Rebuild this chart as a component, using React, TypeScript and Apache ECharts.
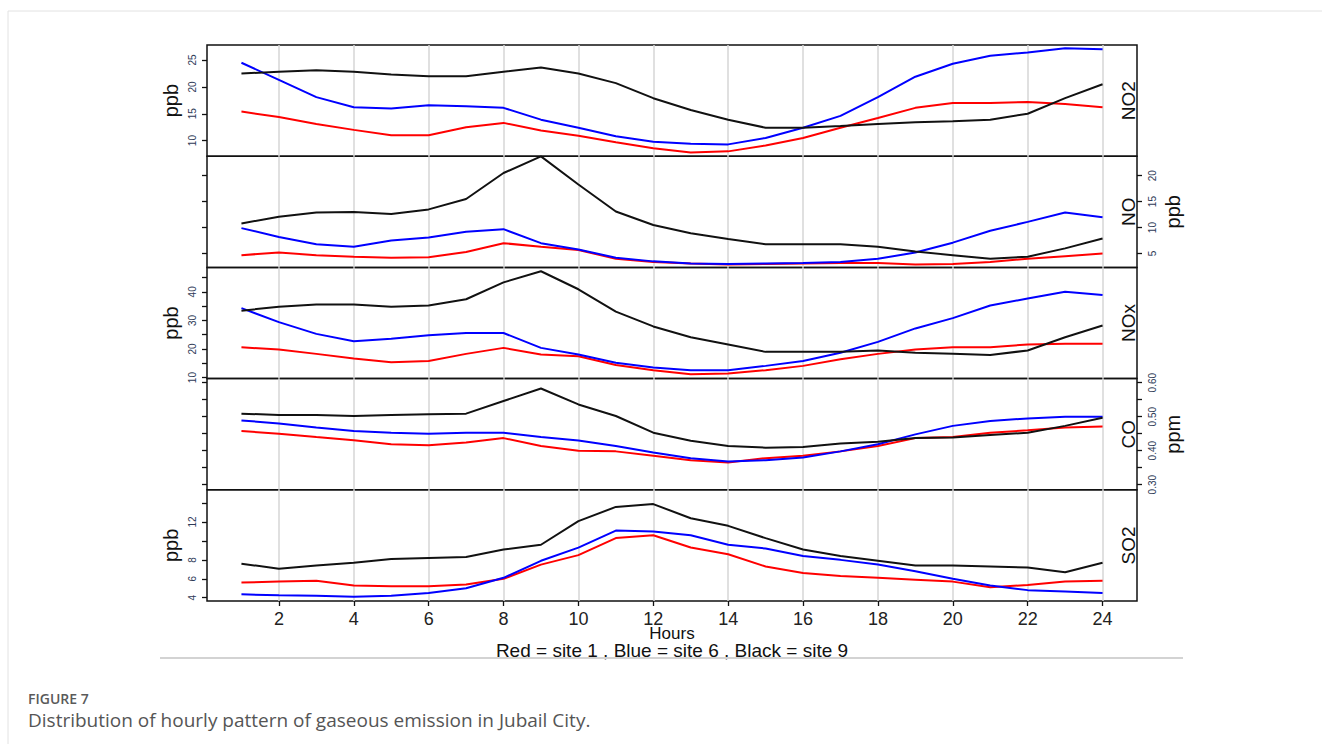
import React, { useEffect, useRef } from "react";
import * as echarts from "echarts";

const HOURS = [1, 2, 3, 4, 5, 6, 7, 8, 9, 10, 11, 12, 13, 14, 15, 16, 17, 18, 19, 20, 21, 22, 23, 24];
const TICK_HOURS = [2, 4, 6, 8, 10, 12, 14, 16, 18, 20, 22, 24];

const PANEL_NAMES = ["NO2", "NO", "NOx", "CO", "SO2"];
const PANEL_UNITS = ["ppb", "ppb", "ppb", "ppm", "ppb"];
const LABEL_SIDE = ["left", "right", "left", "right", "left"];
const Y_MIN = [7.1, 2.34, 9.65, 0.285, 3.65];
const Y_MAX = [27.8, 23.74, 48.55, 0.612, 15.41];
const Y_LABELS = [
  [10, 15, 20, 25],
  [5, 10, 15, 20],
  [10, 20, 30, 40],
  [0.3, 0.4, 0.5, 0.6],
  [4, 6, 8, 12],
];
const Y_TICKS_LABEL_SIDE = [
  [10, 15, 20, 25],
  [5, 10, 15, 20],
  [10, 15, 20, 25, 30, 35, 40, 45],
  [0.3, 0.35, 0.4, 0.45, 0.5, 0.55, 0.6],
  [4, 6, 8, 10, 12, 14],
];
const Y_TICKS_OTHER_SIDE = [
  [],
  [5, 10, 15, 20],
  [],
  [0.3, 0.35, 0.4, 0.45, 0.5, 0.55, 0.6],
  [],
];

// Red = site 1, Blue = site 6, Black = site 9
const NO2_SITE1 = [15.4, 14.4, 13.1, 12.0, 11.0, 11.0, 12.5, 13.3, 11.9, 10.9, 9.7, 8.6, 7.8, 8.0, 9.1, 10.5, 12.4, 14.2, 16.1, 17.0, 17.0, 17.2, 16.8, 16.2];
const NO2_SITE6 = [24.5, 21.3, 18.1, 16.2, 16.0, 16.6, 16.4, 16.1, 13.9, 12.4, 10.8, 9.8, 9.4, 9.3, 10.5, 12.4, 14.6, 18.1, 21.9, 24.3, 25.8, 26.4, 27.2, 27.0];
const NO2_SITE9 = [22.5, 22.8, 23.1, 22.8, 22.3, 22.0, 22.0, 22.8, 23.6, 22.5, 20.7, 17.9, 15.7, 13.9, 12.4, 12.4, 12.7, 13.1, 13.4, 13.6, 13.9, 15.0, 17.9, 20.5];

const NO_SITE1 = [4.7, 5.2, 4.7, 4.4, 4.2, 4.3, 5.3, 7.0, 6.3, 5.7, 4.0, 3.4, 3.1, 2.9, 3.0, 3.1, 3.2, 3.2, 2.9, 3.0, 3.4, 4.0, 4.5, 5.0];
const NO_SITE6 = [9.9, 8.2, 6.8, 6.3, 7.5, 8.1, 9.2, 9.7, 7.0, 5.8, 4.2, 3.5, 3.1, 3.0, 3.1, 3.2, 3.4, 4.0, 5.2, 7.1, 9.4, 11.1, 12.9, 12.0];
const NO_SITE9 = [10.8, 12.1, 12.9, 13.0, 12.6, 13.5, 15.5, 20.5, 23.7, 18.3, 13.1, 10.5, 8.9, 7.8, 6.8, 6.8, 6.8, 6.3, 5.4, 4.7, 4.0, 4.4, 6.0, 7.9];

const NOX_SITE1 = [20.6, 19.8, 18.3, 16.7, 15.4, 15.8, 18.3, 20.4, 18.1, 17.5, 14.4, 12.6, 11.2, 11.4, 12.6, 14.1, 16.4, 18.3, 19.8, 20.6, 20.6, 21.6, 21.8, 21.8];
const NOX_SITE6 = [34.3, 29.4, 25.3, 22.7, 23.6, 24.8, 25.6, 25.6, 20.4, 18.1, 15.2, 13.5, 12.6, 12.6, 14.1, 15.8, 18.7, 22.5, 27.2, 30.8, 35.2, 37.7, 40.0, 38.9];
const NOX_SITE9 = [33.4, 34.8, 35.6, 35.6, 34.8, 35.2, 37.4, 43.3, 47.2, 40.9, 33.1, 27.9, 24.1, 21.6, 19.0, 19.0, 19.0, 19.5, 18.7, 18.3, 17.9, 19.5, 24.1, 28.2];

const CO_SITE1 = [0.458, 0.45, 0.44, 0.431, 0.419, 0.416, 0.424, 0.437, 0.414, 0.4, 0.398, 0.385, 0.372, 0.365, 0.378, 0.385, 0.398, 0.414, 0.437, 0.44, 0.453, 0.46, 0.468, 0.471];
const CO_SITE6 = [0.489, 0.48, 0.468, 0.458, 0.453, 0.45, 0.453, 0.453, 0.44, 0.43, 0.414, 0.395, 0.378, 0.368, 0.372, 0.38, 0.398, 0.419, 0.448, 0.473, 0.487, 0.495, 0.5, 0.5];
const CO_SITE9 = [0.509, 0.505, 0.505, 0.502, 0.505, 0.507, 0.509, 0.546, 0.583, 0.536, 0.502, 0.453, 0.429, 0.414, 0.409, 0.411, 0.421, 0.426, 0.437, 0.439, 0.446, 0.453, 0.473, 0.497];

const SO2_SITE1 = [5.6, 5.7, 5.8, 5.3, 5.2, 5.2, 5.4, 6.0, 7.5, 8.5, 10.3, 10.6, 9.3, 8.6, 7.3, 6.6, 6.3, 6.1, 5.9, 5.7, 5.1, 5.35, 5.7, 5.8];
const SO2_SITE6 = [4.36, 4.25, 4.2, 4.1, 4.2, 4.5, 5.0, 6.1, 7.9, 9.3, 11.1, 11.0, 10.6, 9.6, 9.2, 8.4, 8.0, 7.5, 6.8, 6.0, 5.3, 4.8, 4.65, 4.5];
const SO2_SITE9 = [7.6, 7.06, 7.4, 7.7, 8.1, 8.2, 8.3, 9.1, 9.6, 12.1, 13.6, 13.9, 12.4, 11.6, 10.3, 9.1, 8.4, 7.9, 7.4, 7.4, 7.3, 7.2, 6.7, 7.7];

const PANEL_DATA = [
  [NO2_SITE1, NO2_SITE6, NO2_SITE9],
  [NO_SITE1, NO_SITE6, NO_SITE9],
  [NOX_SITE1, NOX_SITE6, NOX_SITE9],
  [CO_SITE1, CO_SITE6, CO_SITE9],
  [SO2_SITE1, SO2_SITE6, SO2_SITE9],
];
const SITE_NAMES = ["site 1", "site 6", "site 9"];
const SITE_COLORS = ["#ff0000", "#0000ff", "#111111"];

const PLOT_LEFT = 207;
const PLOT_RIGHT = 1137;
const PLOT_TOP = 45;
const PANEL_H = 111.2;
const FONT = "Liberation Sans, Arial, sans-serif";

export default function App() {
  const ref = useRef<HTMLDivElement>(null);

  useEffect(() => {
    if (!ref.current) return;
    const chart = echarts.init(ref.current, null, { renderer: "svg" });

    const grids: any[] = [];
    const xAxes: any[] = [];
    const yAxes: any[] = [];
    const series: any[] = [];
    const graphics: any[] = [];

    PANEL_NAMES.forEach((name, i) => {
      const top = PLOT_TOP + i * PANEL_H;
      const mid = top + PANEL_H / 2;
      grids.push({
        left: PLOT_LEFT,
        width: PLOT_RIGHT - PLOT_LEFT,
        top,
        height: PANEL_H,
        show: true,
        borderColor: "#111",
        borderWidth: 1.5,
        backgroundColor: "transparent",
        containLabel: false,
      });
      const isBottom = i === PANEL_NAMES.length - 1;
      xAxes.push({
        type: "value",
        gridIndex: i,
        min: 0.08,
        max: 24.92,
        axisLine: { show: false },
        axisTick: {
          show: isBottom,
          customValues: TICK_HOURS,
          length: 5,
          lineStyle: { color: "#111", width: 1.3 },
        },
        axisLabel: {
          show: isBottom,
          customValues: TICK_HOURS,
          fontSize: 18,
          color: "#222",
          margin: 9,
          fontFamily: FONT,
        },
        splitLine: { show: true, lineStyle: { color: "#d6d6d6", width: 1.5 } },
      });
      const side = LABEL_SIDE[i];
      const other = side === "left" ? "right" : "left";
      const isCO = name === "CO";
      const mainIndex = yAxes.length;
      yAxes.push({
        type: "value",
        gridIndex: i,
        position: side,
        min: Y_MIN[i],
        max: Y_MAX[i],
        axisLine: { show: false },
        splitLine: { show: false },
        axisTick: {
          show: true,
          customValues: Y_TICKS_LABEL_SIDE[i],
          length: 5,
          lineStyle: { color: "#111", width: 1.3 },
        },
        axisLabel: {
          show: true,
          customValues: Y_LABELS[i],
          rotate: 90,
          fontSize: 10,
          color: "#2e3a58",
          margin: 10,
          fontFamily: FONT,
          formatter: (v: number) => (isCO ? v.toFixed(2) : String(v)),
        },
      });
      yAxes.push({
        type: "value",
        gridIndex: i,
        position: other,
        min: Y_MIN[i],
        max: Y_MAX[i],
        axisLine: { show: false },
        splitLine: { show: false },
        axisTick: {
          show: Y_TICKS_OTHER_SIDE[i].length > 0,
          customValues: Y_TICKS_OTHER_SIDE[i].length > 0 ? Y_TICKS_OTHER_SIDE[i] : [Y_MIN[i]],
          length: 5,
          lineStyle: { color: "#111", width: 1.3 },
        },
        axisLabel: { show: false },
      });
      PANEL_DATA[i].forEach((vals, s) => {
        series.push({
          type: "line",
          name: `${name} ${SITE_NAMES[s]}`,
          xAxisIndex: i,
          yAxisIndex: mainIndex,
          data: HOURS.map((h, k) => [h, vals[k]]),
          showSymbol: false,
          symbol: "none",
          lineStyle: { color: SITE_COLORS[s], width: 2 },
          itemStyle: { color: SITE_COLORS[s] },
          silent: true,
          clip: true,
        });
      });
      // strip label
      graphics.push({
        type: "text",
        x: 1128,
        y: mid,
        rotation: Math.PI / 2,
        style: {
          text: name,
          fontSize: 19,
          fontFamily: FONT,
          fill: "#111",
          textAlign: "center",
          textVerticalAlign: "middle",
        },
      });
      // unit label
      graphics.push({
        type: "text",
        x: side === "left" ? 171 : 1173,
        y: mid,
        rotation: Math.PI / 2,
        style: {
          text: PANEL_UNITS[i],
          fontSize: 20,
          fontFamily: FONT,
          fill: "#111",
          textAlign: "center",
          textVerticalAlign: "middle",
        },
      });
    });

    graphics.push(
      {
        type: "text",
        x: 672,
        y: 633,
        style: { text: "Hours", fontSize: 17, fontFamily: FONT, fill: "#111", textAlign: "center", textVerticalAlign: "middle" },
      },
      {
        type: "text",
        x: 672,
        y: 650,
        style: {
          text: "Red = site 1 , Blue = site 6 , Black = site 9",
          fontSize: 19,
          fontFamily: FONT,
          fill: "#111",
          textAlign: "center",
          textVerticalAlign: "middle",
        },
      },
      {
        type: "line",
        shape: { x1: 160, y1: 658, x2: 1183, y2: 658 },
        style: { stroke: "#d3d3d3", lineWidth: 2 },
      },
      {
        type: "line",
        shape: { x1: 8, y1: 11, x2: 1322, y2: 11 },
        style: { stroke: "#e2e2e2", lineWidth: 1 },
      },
      {
        type: "line",
        shape: { x1: 8, y1: 11, x2: 8, y2: 744 },
        style: { stroke: "#e2e2e2", lineWidth: 1 },
      },
      {
        type: "text",
        x: 28,
        y: 698,
        style: {
          text: "FIGURE 7",
          fontSize: 14,
          fontWeight: 600,
          fontFamily: "Open Sans, sans-serif",
          fill: "#5a5a5a",
          textAlign: "left",
          textVerticalAlign: "middle",
        },
      },
      {
        type: "text",
        x: 28,
        y: 720,
        style: {
          text: "Distribution of hourly pattern of gaseous emission in Jubail City.",
          fontSize: 19,
          fontFamily: "Open Sans, sans-serif",
          fill: "#555",
          textAlign: "left",
          textVerticalAlign: "middle",
        },
      }
    );

    chart.setOption({
      animation: false,
      backgroundColor: "#fff",
      grid: grids,
      xAxis: xAxes,
      yAxis: yAxes,
      series,
      graphic: graphics,
    });

    return () => chart.dispose();
  }, []);

  return (
    <div
      ref={ref}
      style={{ position: "absolute", left: 0, top: 0, width: 1322, height: 744 }}
    />
  );
}
